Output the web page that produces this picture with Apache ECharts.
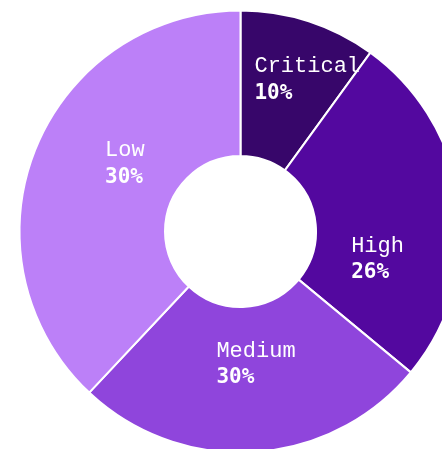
<!DOCTYPE html>
<html>
<head>
<meta charset="utf-8">
<script src="https://cdn.jsdelivr.net/npm/echarts@6/dist/echarts.min.js"></script>
<style>
    html, body { margin: 0; padding: 0; background: #fff; }
    #chart { width: 442px; height: 449px; }
</style>
</head>
<body>
<div id="chart"></div>
<script>
// 数据
const categories = ['Critical', 'High', 'Medium', 'Low'];
const sliceValues = [10, 26, 26, 38];
const labelPercents = [10, 26, 30, 30];
const colors = ['#37066a', '#53089f', '#8f45dc', '#bc80f8'];

// 标签微调 (相对默认 inside 位置)
const labelNudge = [[20, -8], [-13, 47], [6, -18], [25, -12]];

const myChart = echarts.init(document.getElementById('chart'));

const option = {
    animation: false,
    series: [{
        type: 'pie',
        center: [240.5, 231.5],
        radius: [75.5, 221],
        startAngle: 90,
        clockwise: true,
        itemStyle: { borderColor: '#fff', borderWidth: 2 },
        label: {
            show: true,
            position: 'inside',
            formatter: (p) => '{n|' + p.name + '}\n{p|' + labelPercents[p.dataIndex] + '%}',
            rich: {
                n: { color: '#fff', fontFamily: 'Liberation Mono', fontSize: 22, lineHeight: 27, align: 'left' },
                p: { color: '#fff', fontFamily: 'DejaVu Sans Mono', fontWeight: 'bold', fontSize: 21, lineHeight: 27, align: 'left' }
            }
        },
        labelLine: { show: false },
        labelLayout: (params) => {
            const d = labelNudge[params.dataIndex];
            return { dx: d[0], dy: d[1] };
        },
        data: categories.map((name, i) => ({
            name: name,
            value: sliceValues[i],
            itemStyle: { color: colors[i] }
        }))
    }]
};

myChart.setOption(option);
</script>
</body>
</html>
